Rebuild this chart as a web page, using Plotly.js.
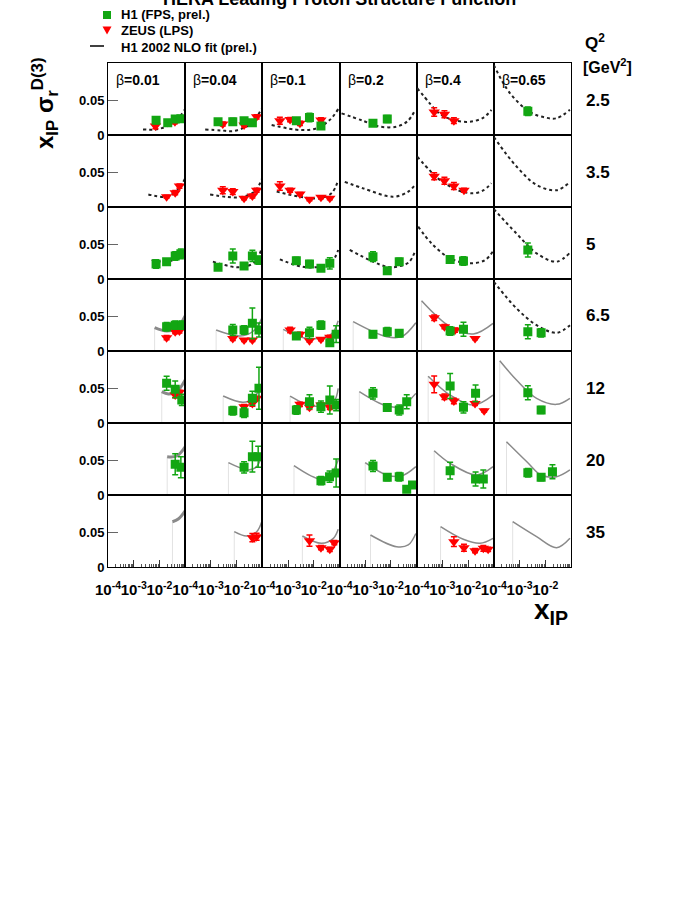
<!DOCTYPE html>
<html>
<head>
<meta charset="utf-8">
<script src="https://cdn.plot.ly/plotly-3.0.1.min.js"></script>
<style>
  body { margin: 0; background: #fff; }
  #chart { width: 698px; height: 903px; }
</style>
</head>
<body>
<div id="chart"></div>
<script>
"use strict";

//DATA
const betas = ["0.01", "0.04", "0.1", "0.2", "0.4", "0.65"];
const q2Labels = ["2.5", "3.5", "5", "6.5", "12", "20", "35"];
const xTickVals = [1e-4, 1e-3, 1e-2];
const xTickText = ["10<sup>-4</sup>", "10<sup>-3</sup>", "10<sup>-2</sup>"];
const yTickVals = [0, 0.05];
const yTickText = ["0", "0.05"];
const legendNames = ["H1 (FPS, prel.)", "ZEUS (LPS)", "H1 2002 NLO fit (prel.)"];

// H1 FPS (prel.): [row, col, x_IP, value, error]
const h1Points = [
	[0,0,0.0074,0.021,0.005],[0,0,0.021,0.0176,0.003],[0,0,0.041,0.023,0.004],[0,0,0.068,0.0233,0.004],
	[0,1,0.0019,0.019,0.003],[0,1,0.0071,0.019,0.005],[0,1,0.0195,0.0205,0.004],[0,1,0.041,0.0176,0.004],
	[0,2,0.0021,0.0205,0.004],[0,2,0.0068,0.025,0.006],[0,2,0.019,0.0129,0.003],
	[0,3,0.002,0.0167,0.003],[0,3,0.0072,0.023,0.005],
	[0,5,0.0021,0.034,0.006],
	[2,0,0.0074,0.0215,0.006],[2,0,0.019,0.0248,0.004],[2,0,0.041,0.033,0.006],[2,0,0.068,0.036,0.007],
	[2,1,0.0019,0.0167,0.004],[2,1,0.0071,0.033,0.01],[2,1,0.0195,0.0186,0.004],[2,1,0.041,0.033,0.008],[2,1,0.074,0.027,0.006],
	[2,2,0.0021,0.0262,0.005],[2,2,0.0068,0.0215,0.005],[2,2,0.019,0.0153,0.004],[2,2,0.042,0.0224,0.008],
	[2,3,0.002,0.0319,0.007],[2,3,0.0072,0.0119,0.004],[2,3,0.021,0.0248,0.005],
	[2,4,0.002,0.028,0.005],[2,4,0.0066,0.0257,0.006],
	[2,5,0.0021,0.0415,0.01],
	[3,0,0.019,0.0347,0.006],[3,0,0.041,0.037,0.006],[3,0,0.074,0.037,0.006],
	[3,1,0.0071,0.030,0.008],[3,1,0.0195,0.030,0.006],[3,1,0.041,0.0396,0.022],[3,1,0.074,0.030,0.01],
	[3,2,0.0021,0.0214,0.004],[3,2,0.0068,0.026,0.008],[3,2,0.019,0.037,0.006],[3,2,0.042,0.0119,0.003],[3,2,0.074,0.024,0.012],
	[3,3,0.002,0.024,0.005],[3,3,0.0072,0.0276,0.006],[3,3,0.021,0.0253,0.005],
	[3,4,0.002,0.0286,0.006],[3,4,0.0066,0.031,0.01],
	[3,5,0.0021,0.0276,0.01],[3,5,0.0069,0.026,0.006],
	[4,0,0.019,0.0567,0.01],[4,0,0.041,0.0482,0.012],[4,0,0.074,0.033,0.008],
	[4,1,0.0071,0.0176,0.006],[4,1,0.0195,0.0148,0.007],[4,1,0.041,0.0353,0.01],[4,1,0.074,0.0496,0.03],
	[4,2,0.0021,0.0186,0.006],[4,2,0.0068,0.0305,0.01],[4,2,0.019,0.0233,0.008],[4,2,0.042,0.033,0.02],[4,2,0.074,0.0257,0.008],
	[4,3,0.002,0.0424,0.008],[4,3,0.0072,0.022,0.005],[4,3,0.021,0.0186,0.007],[4,3,0.041,0.0305,0.01],
	[4,4,0.002,0.0529,0.018],[4,4,0.0066,0.0224,0.008],[4,4,0.0195,0.0424,0.012],
	[4,5,0.0021,0.0434,0.01],[4,5,0.0069,0.0186,0.005],
	[5,0,0.041,0.0439,0.015],[5,0,0.068,0.0396,0.015],
	[5,1,0.0195,0.0396,0.008],[5,1,0.041,0.0548,0.022],[5,1,0.069,0.0548,0.015],
	[5,2,0.019,0.0205,0.006],[5,2,0.041,0.0262,0.008],[5,2,0.074,0.0315,0.02],
	[5,3,0.002,0.0415,0.008],[5,3,0.0072,0.0253,0.005],[5,3,0.021,0.0262,0.006],[5,3,0.041,0.0081,0.003],[5,3,0.069,0.0143,0.004],
	[5,4,0.002,0.0348,0.012],[5,4,0.0195,0.0229,0.01],[5,4,0.039,0.0229,0.013],
	[5,5,0.0021,0.0319,0.006],[5,5,0.0069,0.0253,0.005],[5,5,0.019,0.0333,0.01]
];

// ZEUS LPS: [row, col, x_IP, value, error]
const zeusPoints = [
	[0,0,0.007,0.013,0.004],[0,0,0.04,0.019,0.003],
	[0,1,0.0029,0.0157,0.003],[0,1,0.0195,0.0143,0.003],[0,1,0.06,0.026,0.003],
	[0,2,0.00048,0.0205,0.005],[0,2,0.0012,0.022,0.003],[0,2,0.0029,0.0167,0.003],[0,2,0.019,0.0215,0.003],
	[0,4,0.00048,0.033,0.006],[0,4,0.0012,0.0296,0.005],[0,4,0.0028,0.0205,0.004],
	[1,0,0.019,0.0147,0.002],[1,0,0.041,0.0205,0.003],[1,0,0.06,0.030,0.003],
	[1,1,0.0029,0.024,0.005],[1,1,0.0071,0.022,0.004],[1,1,0.0195,0.0124,0.002],[1,1,0.041,0.0157,0.003],[1,1,0.06,0.024,0.003],
	[1,2,0.00048,0.030,0.006],[1,2,0.0012,0.024,0.003],[1,2,0.0029,0.0186,0.002],[1,2,0.0068,0.011,0.002],[1,2,0.019,0.0139,0.002],[1,2,0.042,0.0124,0.002],
	[1,4,0.00048,0.044,0.005],[1,4,0.0012,0.0376,0.005],[1,4,0.0028,0.030,0.005],[1,4,0.0069,0.024,0.003],
	[3,0,0.019,0.019,0.003],[3,0,0.041,0.0276,0.003],[3,0,0.06,0.0286,0.003],
	[3,1,0.0071,0.018,0.003],[3,1,0.0195,0.0157,0.002],[3,1,0.041,0.0157,0.002],
	[3,2,0.0012,0.030,0.004],[3,2,0.0029,0.024,0.003],[3,2,0.0068,0.0147,0.002],[3,2,0.019,0.0167,0.002],[3,2,0.042,0.0196,0.003],
	[3,4,0.00048,0.0476,0.004],[3,4,0.0012,0.0348,0.003],[3,4,0.0031,0.030,0.003],[3,4,0.0186,0.018,0.002],
	[4,0,0.041,0.040,0.004],[4,0,0.06,0.044,0.003],
	[4,1,0.0195,0.0233,0.003],[4,1,0.041,0.028,0.004],[4,1,0.06,0.0353,0.003],
	[4,2,0.0029,0.0267,0.003],[4,2,0.0068,0.0224,0.003],[4,2,0.019,0.0257,0.003],[4,2,0.042,0.0224,0.003],
	[4,4,0.00048,0.0553,0.012],[4,4,0.0012,0.0376,0.004],[4,4,0.0028,0.0314,0.004],[4,4,0.0186,0.028,0.003],[4,4,0.042,0.0176,0.002],
	[6,1,0.041,0.042,0.006],[6,1,0.06,0.0434,0.005],
	[6,2,0.0068,0.0376,0.008],[6,2,0.019,0.0276,0.003],[6,2,0.042,0.0253,0.003],[6,2,0.063,0.0348,0.003],
	[6,4,0.0028,0.0362,0.007],[6,4,0.0069,0.0276,0.005],[6,4,0.0186,0.0233,0.003],[6,4,0.039,0.0267,0.004],[6,4,0.06,0.0253,0.003]
];

// H1 2002 NLO fit: [row, col, x values, fit values]
const fitCurves = [
	[0,0,[0.0023,0.007,0.018,0.045,0.1],[0.008,0.008,0.012,0.021,0.037]],
	[0,1,[0.0006,0.0025,0.0074,0.0245,0.045,0.095],[0.008,0.0065,0.0057,0.012,0.019,0.038]],
	[0,2,[0.00023,0.0029,0.0129,0.043,0.089],[0.0143,0.0072,0.0096,0.022,0.037]],
	[0,3,[0.00012,0.0008,0.0037,0.0166,0.045,0.085],[0.031,0.0205,0.012,0.012,0.02,0.035]],
	[0,4,[0.000105,0.00033,0.0008,0.003,0.0117,0.04,0.081],[0.067,0.045,0.03,0.021,0.019,0.025,0.036]],
	[0,5,[0.0001,0.00042,0.0025,0.01,0.0275,0.091],[0.1,0.06,0.033,0.025,0.024,0.036]],
	[1,0,[0.0037,0.008,0.019,0.05,0.1],[0.018,0.0155,0.0147,0.024,0.041]],
	[1,1,[0.00093,0.004,0.0135,0.05,0.095],[0.018,0.0145,0.0139,0.022,0.04]],
	[1,2,[0.00036,0.0029,0.017,0.05,0.089],[0.022,0.0147,0.0124,0.02,0.0386]],
	[1,3,[0.00016,0.00083,0.0123,0.047,0.085],[0.036,0.0267,0.0147,0.022,0.0315]],
	[1,4,[0.000105,0.00033,0.0008,0.004,0.0158,0.04,0.081],[0.072,0.052,0.0386,0.024,0.0196,0.024,0.034]],
	[1,5,[0.0001,0.00076,0.0046,0.0275,0.091],[0.1,0.058,0.0315,0.024,0.036]],
	[2,0,[0.005,0.019,0.05,0.1],[0.027,0.0248,0.03,0.0425]],
	[2,1,[0.0012,0.0135,0.05,0.095],[0.0248,0.0167,0.024,0.044]],
	[2,2,[0.00048,0.0054,0.044,0.089],[0.028,0.0167,0.0224,0.0415]],
	[2,3,[0.00025,0.0068,0.02,0.05,0.085],[0.0415,0.0176,0.018,0.024,0.039]],
	[2,4,[0.000115,0.0004,0.002,0.0117,0.045,0.09],[0.075,0.05,0.0296,0.0224,0.027,0.039]],
	[2,5,[0.0001,0.00076,0.0046,0.0275,0.091],[0.1,0.065,0.0367,0.0248,0.0376]],
	[3,0,[0.0065,0.019,0.047,0.1],[0.0333,0.0286,0.0324,0.05]],
	[3,1,[0.0016,0.0135,0.045,0.095],[0.030,0.0214,0.0286,0.0467]],
	[3,2,[0.00065,0.0054,0.044,0.089],[0.031,0.018,0.0229,0.0434]],
	[3,3,[0.00034,0.0068,0.026,0.093],[0.042,0.0205,0.0205,0.0405]],
	[3,4,[0.000155,0.002,0.0158,0.093],[0.072,0.0348,0.0243,0.0396]],
	[3,5,[0.0001,0.00076,0.0046,0.0275,0.091],[0.099,0.061,0.037,0.026,0.037]],
	[4,0,[0.0123,0.022,0.047,0.1],[0.0448,0.0415,0.0448,0.0615]],
	[4,1,[0.003,0.018,0.045,0.095],[0.0386,0.0296,0.0353,0.0553]],
	[4,2,[0.0012,0.0095,0.058,0.089],[0.0386,0.0243,0.0305,0.0496]],
	[4,3,[0.00059,0.0068,0.026,0.093],[0.0448,0.0243,0.0243,0.0424]],
	[4,4,[0.00028,0.002,0.0158,0.093],[0.067,0.040,0.0257,0.040]],
	[4,5,[0.00017,0.00076,0.0046,0.0275,0.091],[0.089,0.0615,0.0353,0.0267,0.0353]],
	[5,0,[0.02,0.047,0.1],[0.0548,0.0558,0.069]],
	[5,1,[0.0048,0.029,0.06,0.095],[0.0462,0.0358,0.0405,0.0572]],
	[5,2,[0.0017,0.02,0.049,0.089],[0.0419,0.0224,0.031,0.050]],
	[5,3,[0.001,0.0068,0.026,0.093],[0.0462,0.0286,0.0272,0.0405]],
	[5,4,[0.00048,0.002,0.021,0.093],[0.0634,0.0453,0.0286,0.0405]],
	[5,5,[0.00031,0.0021,0.0069,0.0275,0.091],[0.0762,0.0462,0.0286,0.0262,0.0358]],
	[6,0,[0.032,0.054,0.1],[0.0648,0.0686,0.0805]],
	[6,1,[0.0081,0.0245,0.06,0.095],[0.0505,0.0443,0.0505,0.0648]],
	[6,2,[0.0036,0.02,0.058,0.089],[0.0443,0.0339,0.041,0.054]],
	[6,3,[0.0016,0.0166,0.047,0.093],[0.0458,0.029,0.0315,0.048]],
	[6,4,[0.00085,0.0065,0.029,0.093],[0.0577,0.0396,0.0339,0.041]],
	[6,5,[0.00054,0.0046,0.0275,0.091],[0.0648,0.0434,0.0276,0.041]]
];

// panels where the fit is an extrapolation (drawn dotted)
const extrapolated = ["0,0","0,1","0,2","0,3","0,4","0,5","1,0","1,1","1,2","1,3","1,4","1,5",
	"2,0","2,1","2,2","2,3","2,4","2,5","3,5"];

//LAYOUT HELPERS
const W = 698, H = 903;
const LEFT = 108, RIGHT = 571, TOP = 63, ROW_H = 72;
const COL_W = (RIGHT - LEFT) / 6;
const FONT = "Liberation Sans, Arial, Helvetica, sans-serif";
const GREEN = "#12a612", RED = "#ff0000";

function xDom(c){ return [(LEFT + c*COL_W)/W, (LEFT + (c+1)*COL_W)/W]; }
function yDom(r){ return [1 - (TOP + (r+1)*ROW_H)/H, 1 - (TOP + r*ROW_H)/H]; }
function axId(r, c){ const k = r*6 + c + 1; return (k == 1? "": String(k)); }
function px(x){ return x/W; }
function py(y){ return 1 - y/H; }

const minorVals = [];
for(let d = -4; d < -1; d++){
	for(let m = 2; m <= 9; m++) minorVals.push(m * Math.pow(10, d));
}

const layout = {
	width: W, height: H,
	margin: {l: 0, r: 0, t: 0, b: 0},
	paper_bgcolor: "#fff", plot_bgcolor: "rgba(0,0,0,0)",
	font: {family: FONT, color: "#000"},
	showlegend: false,
	annotations: [],
	shapes: [],
	hovermode: false
};

for(let r = 0; r < 7; r++){
	for(let c = 0; c < 6; c++){
		const id = axId(r, c);
		const bottom = (r == 6);
		const first = (c == 0);
		layout["xaxis" + id] = {
			type: "log", range: [-4, -1], domain: xDom(c), anchor: "y" + id,
			showline: true, mirror: true, linecolor: "#000", linewidth: 1,
			showgrid: false, zeroline: false,
			tickmode: "array", tickvals: xTickVals, ticktext: xTickText,
			ticks: bottom? "inside": "", ticklen: 7, tickcolor: "#333",
			showticklabels: bottom, tickangle: 0, ticklabelstandoff: 9,
			tickfont: {family: FONT, size: 15, weight: "bold"},
			minor: bottom? {tickmode: "array", tickvals: minorVals, ticks: "inside", ticklen: 3, tickcolor: "#555", showgrid: false}: undefined,
			fixedrange: true
		};
		layout["yaxis" + id] = {
			range: [0, 0.103], domain: yDom(r), anchor: "x" + id,
			showline: true, mirror: true, linecolor: "#000", linewidth: 1,
			showgrid: false, zeroline: false,
			tickmode: "array", tickvals: yTickVals, ticktext: yTickText,
			ticks: first? "inside": "", ticklen: 10, tickcolor: "#666",
			showticklabels: first,
			tickfont: {family: FONT, size: 13, weight: "bold"},
			fixedrange: true
		};
	}
}

//TRACES
const traces = [];

for(const [r, c, xs, ys] of fitCurves){
	const id = axId(r, c);
	const dotted = extrapolated.includes(r + "," + c);
	if(!dotted){
		// faint edge of the fit band
		traces.push({
			x: [xs[0], xs[0]], y: [0, ys[0]], xaxis: "x" + id, yaxis: "y" + id,
			mode: "lines", line: {color: "#e2e2e2", width: 1}, hoverinfo: "skip"
		});
	}
	traces.push({
		x: xs, y: ys, xaxis: "x" + id, yaxis: "y" + id,
		mode: "lines",
		line: dotted?
			{color: "#222", width: 2, dash: "dot", shape: "spline", smoothing: 1}:
			{color: "#8a8a8a", width: (c == 0? 3: 1.5), shape: "spline", smoothing: 1},
		hoverinfo: "skip"
	});
}

function pointTraces(list, symbol, color, size){
	for(let r = 0; r < 7; r++){
		for(let c = 0; c < 6; c++){
			const pts = list.filter((p) => p[0] == r && p[1] == c);
			if(pts.length == 0) continue;
			const id = axId(r, c);
			traces.push({
				x: pts.map((p) => p[2]), y: pts.map((p) => p[3]),
				error_y: {type: "data", array: pts.map((p) => p[4]), color: color, thickness: 1.5, width: 3},
				xaxis: "x" + id, yaxis: "y" + id,
				mode: "markers",
				marker: {symbol: symbol, color: color, size: size},
				hoverinfo: "skip"
			});
		}
	}
}

pointTraces(zeusPoints, "triangle-down", RED, 10);
pointTraces(h1Points, "square", GREEN, 9);

//TEXT
const ann = layout.annotations;
function addText(x, y, text, size, opts){
	ann.push(Object.assign({
		xref: "paper", yref: "paper", x: px(x), y: py(y),
		text: text, showarrow: false, xanchor: "left", yanchor: "middle",
		font: {family: FONT, size: size, color: "#000"}
	}, opts || {}));
}

addText(339, -1, "<b>HERA Leading Proton Structure Function</b>", 18, {xanchor: "center"});

// legend (ROOT style, drawn by hand)
const shp = layout.shapes;
shp.push({type: "rect", xref: "paper", yref: "paper", x0: px(103), x1: px(111), y0: py(19), y1: py(11),
	fillcolor: GREEN, line: {width: 0}});
shp.push({type: "path", xref: "paper", yref: "paper",
	path: `M ${px(102.5)} ${py(26.5)} L ${px(111.5)} ${py(26.5)} L ${px(107)} ${py(34.5)} Z`,
	fillcolor: RED, line: {width: 0}});
shp.push({type: "line", xref: "paper", yref: "paper", x0: px(90), x1: px(104), y0: py(46), y1: py(46),
	line: {color: "#000", width: 1.5}});
for(let i = 0; i < legendNames.length; i++){
	addText(119, 15 + i*16, "<b>" + legendNames[i] + "</b>", 13);
}

for(let c = 0; c < 6; c++){
	addText(LEFT + c*COL_W + 6, 80, "β<b>=" + betas[c] + "</b>", 14);
}

for(let r = 0; r < 7; r++){
	addText(584, 100 + r*ROW_H, "<b>" + q2Labels[r] + "</b>", 17);
}

addText(583, 42, "<b>Q<sup>2</sup></b>", 17);
addText(581, 66, "<b>[GeV<sup>2</sup>]</b>", 16);

addText(45, 104, "<b>x<sub>IP</sub> σ<sub>r</sub><sup>D(3)</sup></b>", 24, {xanchor: "center", textangle: -90});
addText(551, 611, "<b>x<sub>IP</sub></b>", 28, {xanchor: "center"});

Plotly.newPlot("chart", traces, layout, {staticPlot: true});
</script>
</body>
</html>
